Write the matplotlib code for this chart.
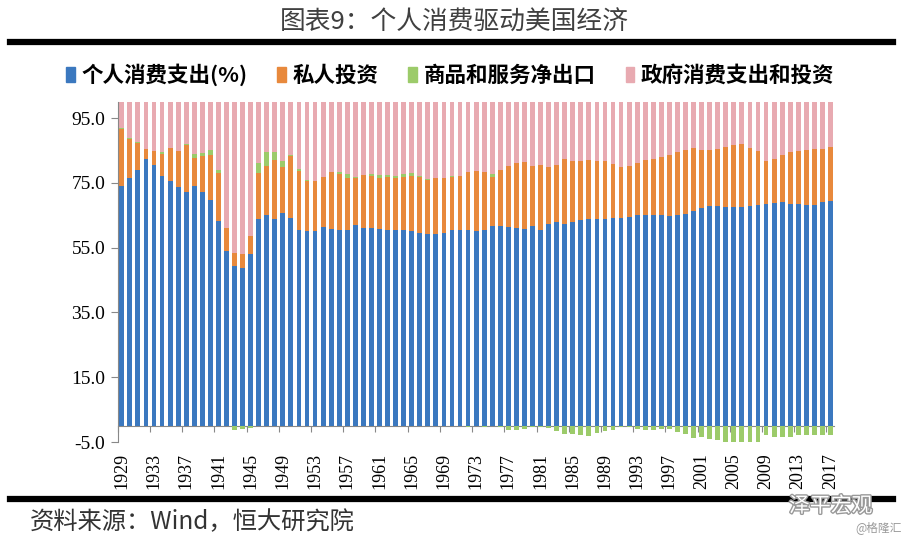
import matplotlib
matplotlib.use('Agg')
import matplotlib.pyplot as plt
import matplotlib.patheffects as pe
from matplotlib.lines import Line2D
from matplotlib.patches import Patch
import numpy as np

plt.rcParams['font.family'] = ['Noto Sans CJK SC', 'DejaVu Sans']

years = list(range(1929, 2018))

# 个人消费支出 (% of GDP)
consumption = [73.9, 76.5, 79.1, 82.4, 80.6, 77.2, 75.5, 73.6, 72.2, 73.9,
               72.2, 69.6, 63.2, 53.9, 49.3, 48.8, 53.1, 63.7, 65.2, 64.0,
               65.7, 64.2, 60.3, 60.1, 60.1, 61.4, 60.8, 60.6, 60.6, 62.0,
               61.1, 61.1, 60.8, 60.4, 60.4, 60.4, 60.0, 59.4, 59.3, 59.1,
               59.6, 60.4, 60.4, 60.4, 60.1, 60.6, 61.6, 61.6, 61.4, 61.1,
               60.8, 61.6, 60.6, 62.2, 62.9, 62.2, 62.9, 63.4, 63.7, 63.9,
               63.7, 64.2, 64.2, 64.6, 65.0, 65.0, 65.0, 65.0, 64.9, 65.0,
               65.5, 66.3, 67.2, 67.8, 67.8, 67.6, 67.5, 67.5, 67.8, 68.3,
               68.6, 68.8, 69.2, 68.6, 68.5, 68.3, 68.2, 69.0, 69.5]

# 私人投资
investment = [17.7, 12.0, 8.2, 3.0, 4.1, 6.8, 10.2, 11.1, 14.6, 8.8,
              11.0, 14.1, 14.9, 7.2, 4.1, 4.1, 5.5, 14.4, 14.9, 18.2,
              14.1, 19.0, 18.3, 15.6, 15.6, 15.3, 17.5, 17.2, 16.0, 14.4,
              16.4, 16.1, 15.7, 16.3, 16.1, 16.4, 17.2, 17.4, 16.5, 17.4,
              16.9, 16.4, 16.8, 17.9, 18.5, 17.7, 15.2, 17.5, 18.9, 20.0,
              20.5, 18.5, 20.0, 17.6, 17.7, 20.2, 19.0, 18.5, 18.5, 18.0,
              17.9, 16.7, 15.7, 15.7, 16.2, 17.2, 17.5, 18.0, 18.6, 19.4,
              19.7, 19.6, 18.0, 17.2, 17.6, 18.6, 19.3, 19.5, 18.0, 16.4,
              13.0, 13.7, 14.5, 15.8, 16.3, 16.9, 17.4, 16.6, 16.5]

# 商品和服务净出口
net_exports = [0.4, 0.4, 0.2, 0.2, 0.1, 0.5, -0.1, -0.1, 0.1, 1.2,
               0.9, 1.4, 1.0, -0.2, -1.3, -1.0, -0.6, 3.0, 4.5, 2.2,
               1.9, 0.3, 0.8, 0.3, -0.2, 0.1, 0.2, 0.6, 1.1, 0.3,
               -0.2, 0.6, 0.8, 0.6, 0.7, 1.0, 0.7, 0.3, 0.3, -0.1,
               -0.1, 0.3, -0.1, -0.5, 0.1, -0.4, 0.8, -0.3, -1.3, -1.2,
               -0.9, -0.5, -0.4, -0.6, -1.5, -2.5, -2.6, -2.9, -3.0, -2.1,
               -1.5, -1.3, -0.5, -0.5, -1.0, -1.3, -1.2, -1.1, -1.1, -1.8,
               -2.6, -3.7, -3.5, -4.0, -4.5, -5.1, -5.6, -5.5, -4.9, -4.9,
               -2.7, -3.4, -3.6, -3.4, -2.8, -2.9, -2.9, -2.7, -2.9]

# 政府消费支出和投资
government = [8.0, 11.1, 12.5, 14.4, 15.2, 15.5, 14.4, 15.4, 13.1, 16.1,
              15.9, 14.9, 20.9, 39.1, 47.9, 48.1, 42.0, 18.9, 15.4, 15.6,
              18.3, 16.5, 20.6, 24.0, 24.5, 23.2, 21.5, 21.6, 22.3, 23.3,
              22.7, 22.2, 22.7, 22.7, 22.8, 22.2, 22.1, 22.9, 23.9, 23.6,
              23.6, 22.9, 22.9, 22.2, 21.3, 22.1, 22.4, 21.2, 21.0, 20.1,
              19.6, 20.4, 19.8, 20.8, 20.9, 20.1, 20.7, 21.0, 20.8, 20.2,
              19.9, 20.4, 20.6, 20.2, 19.8, 19.1, 18.7, 18.1, 17.6, 17.4,
              17.4, 17.8, 18.3, 19.0, 19.1, 18.9, 18.8, 18.5, 19.1, 20.2,
              21.1, 20.9, 19.9, 19.0, 18.0, 17.7, 17.3, 17.1, 16.9]

labels = ['个人消费支出(%)', '私人投资', '商品和服务净出口', '政府消费支出和投资']
colors = ['#3b78bf', '#e8893c', '#9ccb6a', '#e8aab1']

c = np.array(consumption)
inv = np.array(investment)
nx = np.array(net_exports)
gov = np.array(government)
x = np.arange(len(years))
w = 0.6

fig = plt.figure(figsize=(9.13, 5.42), dpi=100)
ax = fig.add_axes([0.129, 0.1845, 0.785, 0.6275])

ax.bar(x, c, w, color=colors[0])
ax.bar(x, inv, w, bottom=c, color=colors[1])
nx_bottom = np.where(nx > 0, c + inv, 0)
ax.bar(x, nx, w, bottom=nx_bottom, color=colors[2])
ax.bar(x, gov, w, bottom=c + inv + np.clip(nx, 0, None), color=colors[3])

ax.set_ylim(-5, 100)
ax.set_xlim(-0.5, len(years) - 0.5)
ax.set_yticks([-5, 15, 35, 55, 75, 95])
ax.set_yticklabels(['%.1f' % v for v in [-5, 15, 35, 55, 75, 95]],
                   family='Liberation Serif', fontsize=14)
ax.tick_params(axis='y', direction='out', length=5, color='#888888', pad=4)

for s in ['top', 'right', 'bottom']:
    ax.spines[s].set_visible(False)
ax.spines['left'].set_color('#888888')

ax.set_xticks(x[::4])
ax.set_xticklabels([str(y) for y in years[::4]], rotation=90,
                   family='Liberation Serif', fontsize=13)
ax.tick_params(axis='x', length=0, pad=8)

# x axis line at zero with tick marks between groups of 4 years
sec = ax.secondary_xaxis(5 / 105)
sec.set_xticks(np.arange(-0.5, len(years), 4))
sec.tick_params(axis='x', which='both', bottom=True, top=False,
                labelbottom=False, labeltop=False, direction='out',
                length=4, color='#888888')
for s in sec.spines.values():
    s.set_color('#888888')

handles = [Patch(color=col) for col in colors]
fig.legend(handles, labels, loc='center', bbox_to_anchor=(0.493, 0.862), ncol=4,
           frameon=False, handlelength=0.4, handleheight=0.7, handletextpad=0.3,
           columnspacing=1.4, prop={'family': 'Noto Sans CJK SC', 'weight': 'bold', 'size': 15.5})

fig.text(0.498, 0.958, '图表9：个人消费驱动美国经济', ha='center', va='center',
         fontsize=18.5, color='#404040')
fig.add_artist(Line2D([0.011, 0.978], [1 - 42 / 542] * 2, lw=4.5, color='black'))
fig.add_artist(Line2D([0.011, 0.978], [1 - 499 / 542] * 2, lw=4.5, color='black'))

fig.text(0.033, 1 - 522 / 542, '资料来源：Wind，恒大研究院', ha='left', va='center',
         fontsize=17.5, color='#333333', style='italic')

wm = fig.text(0.91, 1 - 506 / 542, '泽平宏观', ha='center', va='center',
              fontsize=15, color='white')
wm.set_path_effects([pe.withStroke(linewidth=2, foreground='#999999')])
fig.text(0.962, 1 - 528 / 542, '@格隆汇', ha='center', va='center',
         fontsize=8.5, color='#999999')

fig.savefig('out.png', dpi=100)
